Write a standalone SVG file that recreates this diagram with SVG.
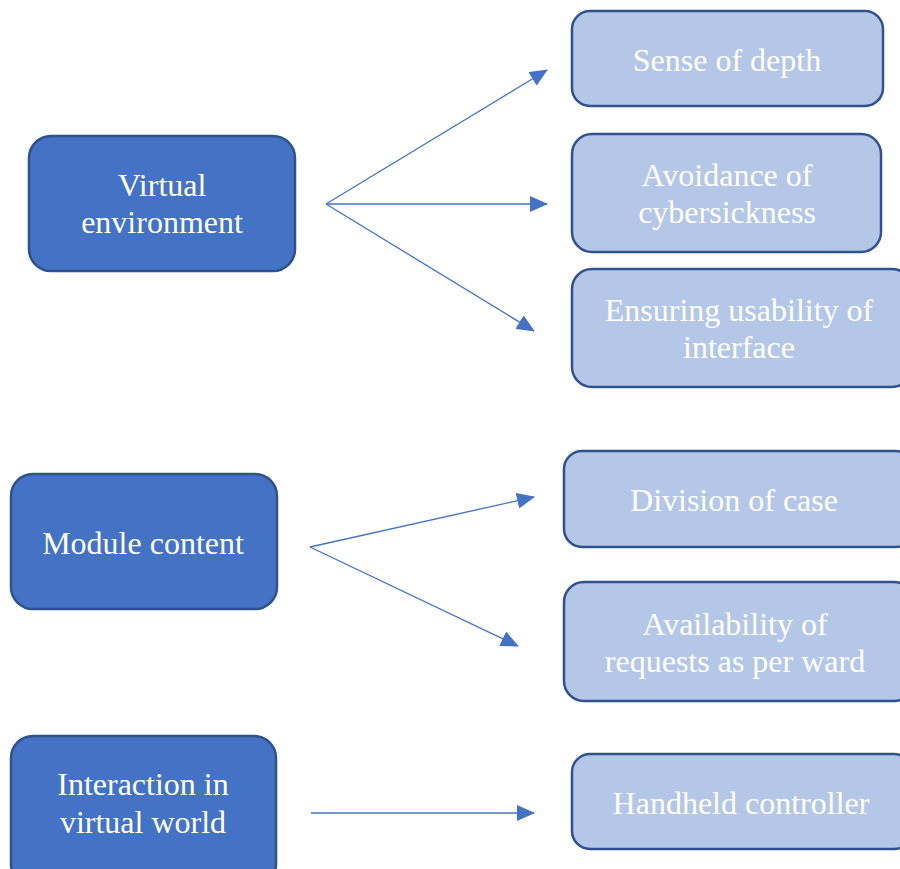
<svg xmlns="http://www.w3.org/2000/svg" width="900" height="869" viewBox="0 0 900 869">
<defs>
<style>
.dark{fill:#4472C4;stroke:#2F528F;stroke-width:2.5}
.light{fill:#B4C7E7;stroke:#2F528F;stroke-width:2.5}
.t{font-family:"Liberation Serif","Times New Roman",serif;font-size:32px;fill:#FFFFFF;text-anchor:middle}
.c{stroke:#4472C4;stroke-width:1.3;fill:none;marker-end:url(#ah)}
</style>
<marker id="ah" markerUnits="userSpaceOnUse" markerWidth="18" markerHeight="16" refX="17" refY="8" orient="auto">
<path d="M0,0 L18,8 L0,16 Z" fill="#4472C4"/>
</marker>
</defs>
<rect width="900" height="869" fill="#FFFFFF"/>
<g id="connectors">
<line class="c" x1="326" y1="204" x2="547" y2="70"/>
<line class="c" x1="326" y1="204" x2="547" y2="204"/>
<line class="c" x1="326" y1="204" x2="534" y2="331"/>
<line class="c" x1="310" y1="547" x2="534" y2="497"/>
<line class="c" x1="310" y1="547" x2="518" y2="646"/>
<line class="c" x1="311" y1="813" x2="534" y2="813"/>
</g>
<g id="virtual-environment">
<rect class="dark" x="29" y="136" width="266" height="135" rx="22"/>
<text class="t" x="162" y="196">Virtual</text>
<text class="t" x="162" y="233">environment</text>
</g>
<g id="sense-of-depth">
<rect class="light" x="572" y="11" width="311" height="95" rx="18"/>
<text class="t" x="727" y="71">Sense of depth</text>
</g>
<g id="avoidance">
<rect class="light" x="572" y="134" width="309" height="118" rx="20"/>
<text class="t" x="727" y="186">Avoidance of</text>
<text class="t" x="727" y="223">cybersickness</text>
</g>
<g id="ensuring">
<rect class="light" x="572" y="269" width="340" height="118" rx="20"/>
<text class="t" x="739" y="321">Ensuring usability of</text>
<text class="t" x="739" y="358">interface</text>
</g>
<g id="module-content">
<rect class="dark" x="11" y="474" width="266" height="135" rx="22"/>
<text class="t" x="143" y="554">Module content</text>
</g>
<g id="division">
<rect class="light" x="564" y="451" width="350" height="96" rx="18"/>
<text class="t" x="734" y="511">Division of case</text>
</g>
<g id="availability">
<rect class="light" x="564" y="582" width="350" height="119" rx="20"/>
<text class="t" x="735" y="635">Availability of</text>
<text class="t" x="735" y="672">requests as per ward</text>
</g>
<g id="interaction">
<rect class="dark" x="11" y="736" width="265" height="150" rx="22"/>
<text class="t" x="143" y="795">Interaction in</text>
<text class="t" x="143" y="833">virtual world</text>
</g>
<g id="handheld">
<rect class="light" x="572" y="754" width="340" height="95" rx="18"/>
<text class="t" x="741" y="814">Handheld controller</text>
</g>
</svg>
